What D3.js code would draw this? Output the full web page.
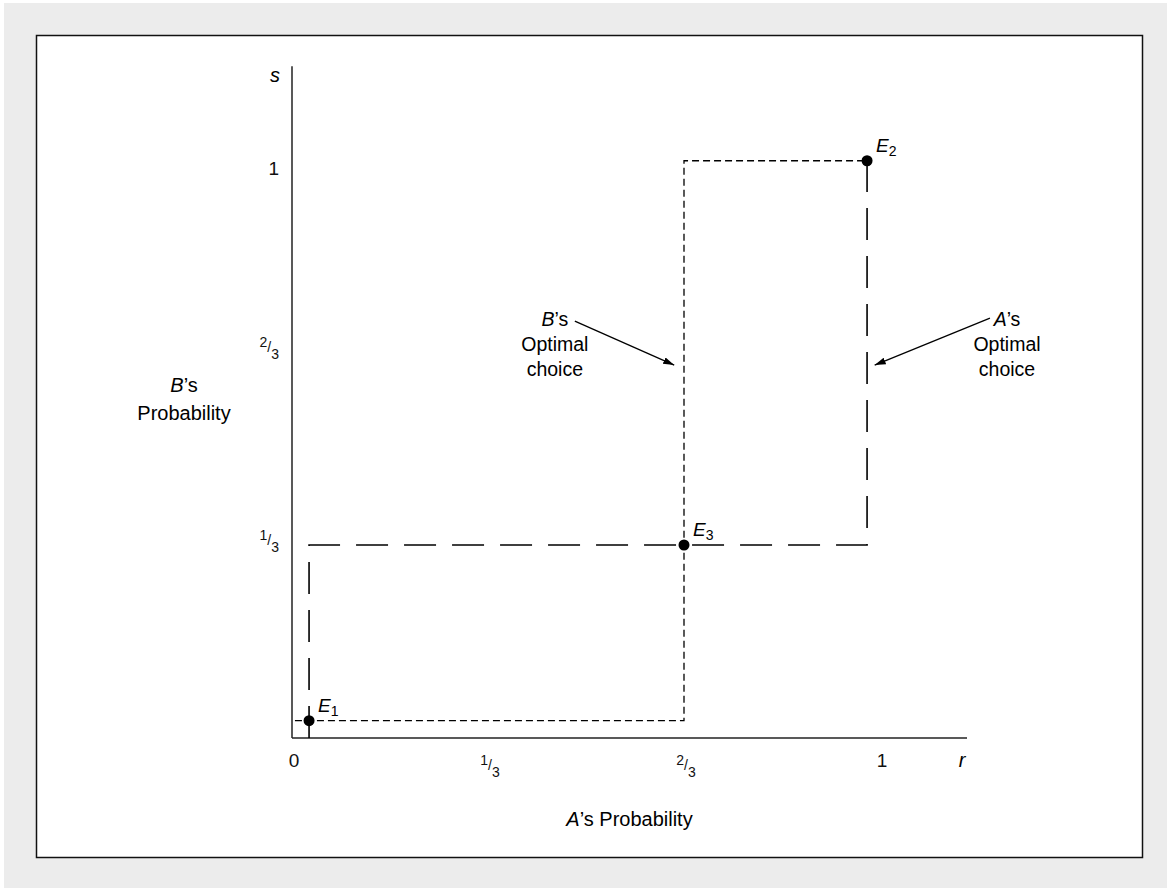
<!DOCTYPE html>
<html>
<head>
<meta charset="utf-8">
<script src="https://cdn.jsdelivr.net/npm/d3@7"></script>
<style>
  html, body { margin: 0; padding: 0; background: #ffffff; }
  svg { display: block; font-family: "Liberation Sans", Arial, Helvetica, sans-serif; }
</style>
</head>
<body>
<svg id="chart" width="1167" height="888"></svg>
<script>
// ---------- data ----------
const xTickValues = [0, 1/3, 2/3, 1];
const xTickLabels = ["0", "1/3", "2/3", "1"];
const yTickValues = [1/3, 2/3, 1];
const yTickLabels = ["1/3", "2/3", "1"];
const xAxisMax = 1.148;
const yAxisMax = 1.16;
const xAxisLetter = "r";
const yAxisLetter = "s";

// Equilibria (r, s)
const eqNames = ["1", "2", "3"];
const eqR = [0.029, 0.978, 2/3];
const eqS = [0.03, 0.997, 1/3];

// A's optimal choice (long dashes) and B's optimal choice (short dashes)
const aPathR = [0.029, 0.029, 0.978, 0.978];
const aPathS = [0, 1/3, 1/3, 0.997];
const bPathR = [0.005, 2/3, 2/3, 0.978];
const bPathS = [0.03, 0.03, 0.997, 0.997];

// Annotations: label lines, text centre (r, s of first baseline), arrow start and tip
const annLabels = [["B", "\u2019s", "Optimal", "choice"], ["A", "\u2019s", "Optimal", "choice"]];
const annTextR = [0.447, 1.216];
const annTextS = [0.712, 0.712];
const annFromR = [0.481, 1.187];
const annFromS = [0.72, 0.725];
const annToR = [0.650, 0.991];
const annToS = [0.644, 0.644];

// ---------- drawing ----------
const svg = d3.select("#chart");
svg.append("rect").attr("x", 4).attr("y", 3).attr("width", 1163).attr("height", 885).attr("fill", "#ececec");
svg.append("rect").attr("x", 36.5).attr("y", 35.5).attr("width", 1106).attr("height", 822)
  .attr("fill", "#ffffff").attr("stroke", "#111").attr("stroke-width", 1.5);

const x = d3.scaleLinear().domain([0, 1]).range([292, 880]);
const y = d3.scaleLinear().domain([0, 1]).range([738, 159]);

const defs = svg.append("defs");
defs.append("marker").attr("id", "arrow").attr("markerUnits", "userSpaceOnUse")
  .attr("markerWidth", 13).attr("markerHeight", 8).attr("refX", 11).attr("refY", 3.5)
  .attr("orient", "auto")
  .append("path").attr("d", "M0,0 L11,3.5 L0,7 Z").attr("fill", "#000");

const g = svg.append("g");
// axes
g.append("line").attr("x1", x(0)).attr("x2", x(xAxisMax)).attr("y1", y(0)).attr("y2", y(0))
  .attr("stroke", "#222").attr("stroke-width", 1.5);
g.append("line").attr("x1", x(0)).attr("x2", x(0)).attr("y1", y(0)).attr("y2", y(yAxisMax))
  .attr("stroke", "#222").attr("stroke-width", 1.5);

function drawLabel(sel, label) {
  if (label.indexOf("/") >= 0) {
    const [n, d] = label.split("/");
    sel.append("tspan").attr("font-size", 14).attr("dy", -12).text(n);
    sel.append("tspan").attr("font-size", 14).attr("dy", 5).text("/");
    sel.append("tspan").attr("font-size", 14).attr("dy", 7).text(d);
    return true;
  }
  sel.text(label);
  return false;
}

// x tick labels
xTickValues.forEach((v, i) => {
  const isFrac = xTickLabels[i].indexOf("/") >= 0;
  const t = g.append("text").attr("x", x(v) + 2).attr("y", isFrac ? 777 : 767)
    .attr("text-anchor", "middle").attr("font-size", 19).attr("fill", "#111");
  drawLabel(t, xTickLabels[i]);
});
g.append("text").attr("x", x(xAxisMax) - 5).attr("y", 767).attr("font-size", 20)
  .attr("font-style", "italic").attr("text-anchor", "middle").text(xAxisLetter);

// y tick labels
yTickValues.forEach((v, i) => {
  const isFrac = yTickLabels[i].indexOf("/") >= 0;
  const t = g.append("text").attr("x", 279).attr("y", y(v) + (isFrac ? 7 : 16))
    .attr("text-anchor", "end").attr("font-size", 19).attr("fill", "#111");
  drawLabel(t, yTickLabels[i]);
});
g.append("text").attr("x", 280).attr("y", y(yAxisMax) + 16).attr("font-size", 20)
  .attr("font-style", "italic").attr("text-anchor", "end").text(yAxisLetter);

// axis titles
const yt = g.append("text").attr("x", 184).attr("text-anchor", "middle").attr("font-size", 20);
yt.append("tspan").attr("x", 184).attr("y", 392).attr("font-style", "italic").text("B");
yt.append("tspan").text("\u2019s");
yt.append("tspan").attr("x", 184).attr("y", 420).text("Probability");

const xt = g.append("text").attr("x", (x(0) + x(xAxisMax)) / 2).attr("y", 826)
  .attr("text-anchor", "middle").attr("font-size", 20);
xt.append("tspan").attr("font-style", "italic").text("A");
xt.append("tspan").text("\u2019s Probability");

// paths
const line = d3.line().x(d => x(d[0])).y(d => y(d[1]));
const bPts = bPathR.map((r, i) => [r, bPathS[i]]);
const aPts = aPathR.map((r, i) => [r, aPathS[i]]);
g.append("path").attr("d", line(bPts)).attr("fill", "none").attr("stroke", "#000")
  .attr("stroke-width", 1.3).attr("stroke-dasharray", "7,4");
g.append("path").attr("d", line(aPts)).attr("fill", "none").attr("stroke", "#000")
  .attr("stroke-width", 1.6).attr("stroke-dasharray", "32,16");

// annotations
annLabels.forEach((lab, i) => {
  const cx = x(annTextR[i]), by = y(annTextS[i]);
  const t = g.append("text").attr("text-anchor", "middle").attr("font-size", 19.5);
  t.append("tspan").attr("x", cx).attr("y", by).attr("font-style", "italic").text(lab[0]);
  t.append("tspan").text(lab[1]);
  t.append("tspan").attr("x", cx).attr("y", by + 25).text(lab[2]);
  t.append("tspan").attr("x", cx).attr("y", by + 50).text(lab[3]);
  g.append("line").attr("x1", x(annFromR[i])).attr("y1", y(annFromS[i]))
    .attr("x2", x(annToR[i])).attr("y2", y(annToS[i]))
    .attr("stroke", "#000").attr("stroke-width", 1.3).attr("marker-end", "url(#arrow)");
});

// equilibrium points
eqNames.forEach((n, i) => {
  const cx = x(eqR[i]), cy = y(eqS[i]);
  g.append("circle").attr("cx", cx).attr("cy", cy).attr("r", 5.5).attr("fill", "#000");
  const t = g.append("text").attr("x", cx + 9).attr("y", cy - 9).attr("font-size", 19);
  t.append("tspan").attr("font-style", "italic").text("E");
  t.append("tspan").attr("font-size", 14).attr("dy", 4).text(n);
});
</script>
</body>
</html>
